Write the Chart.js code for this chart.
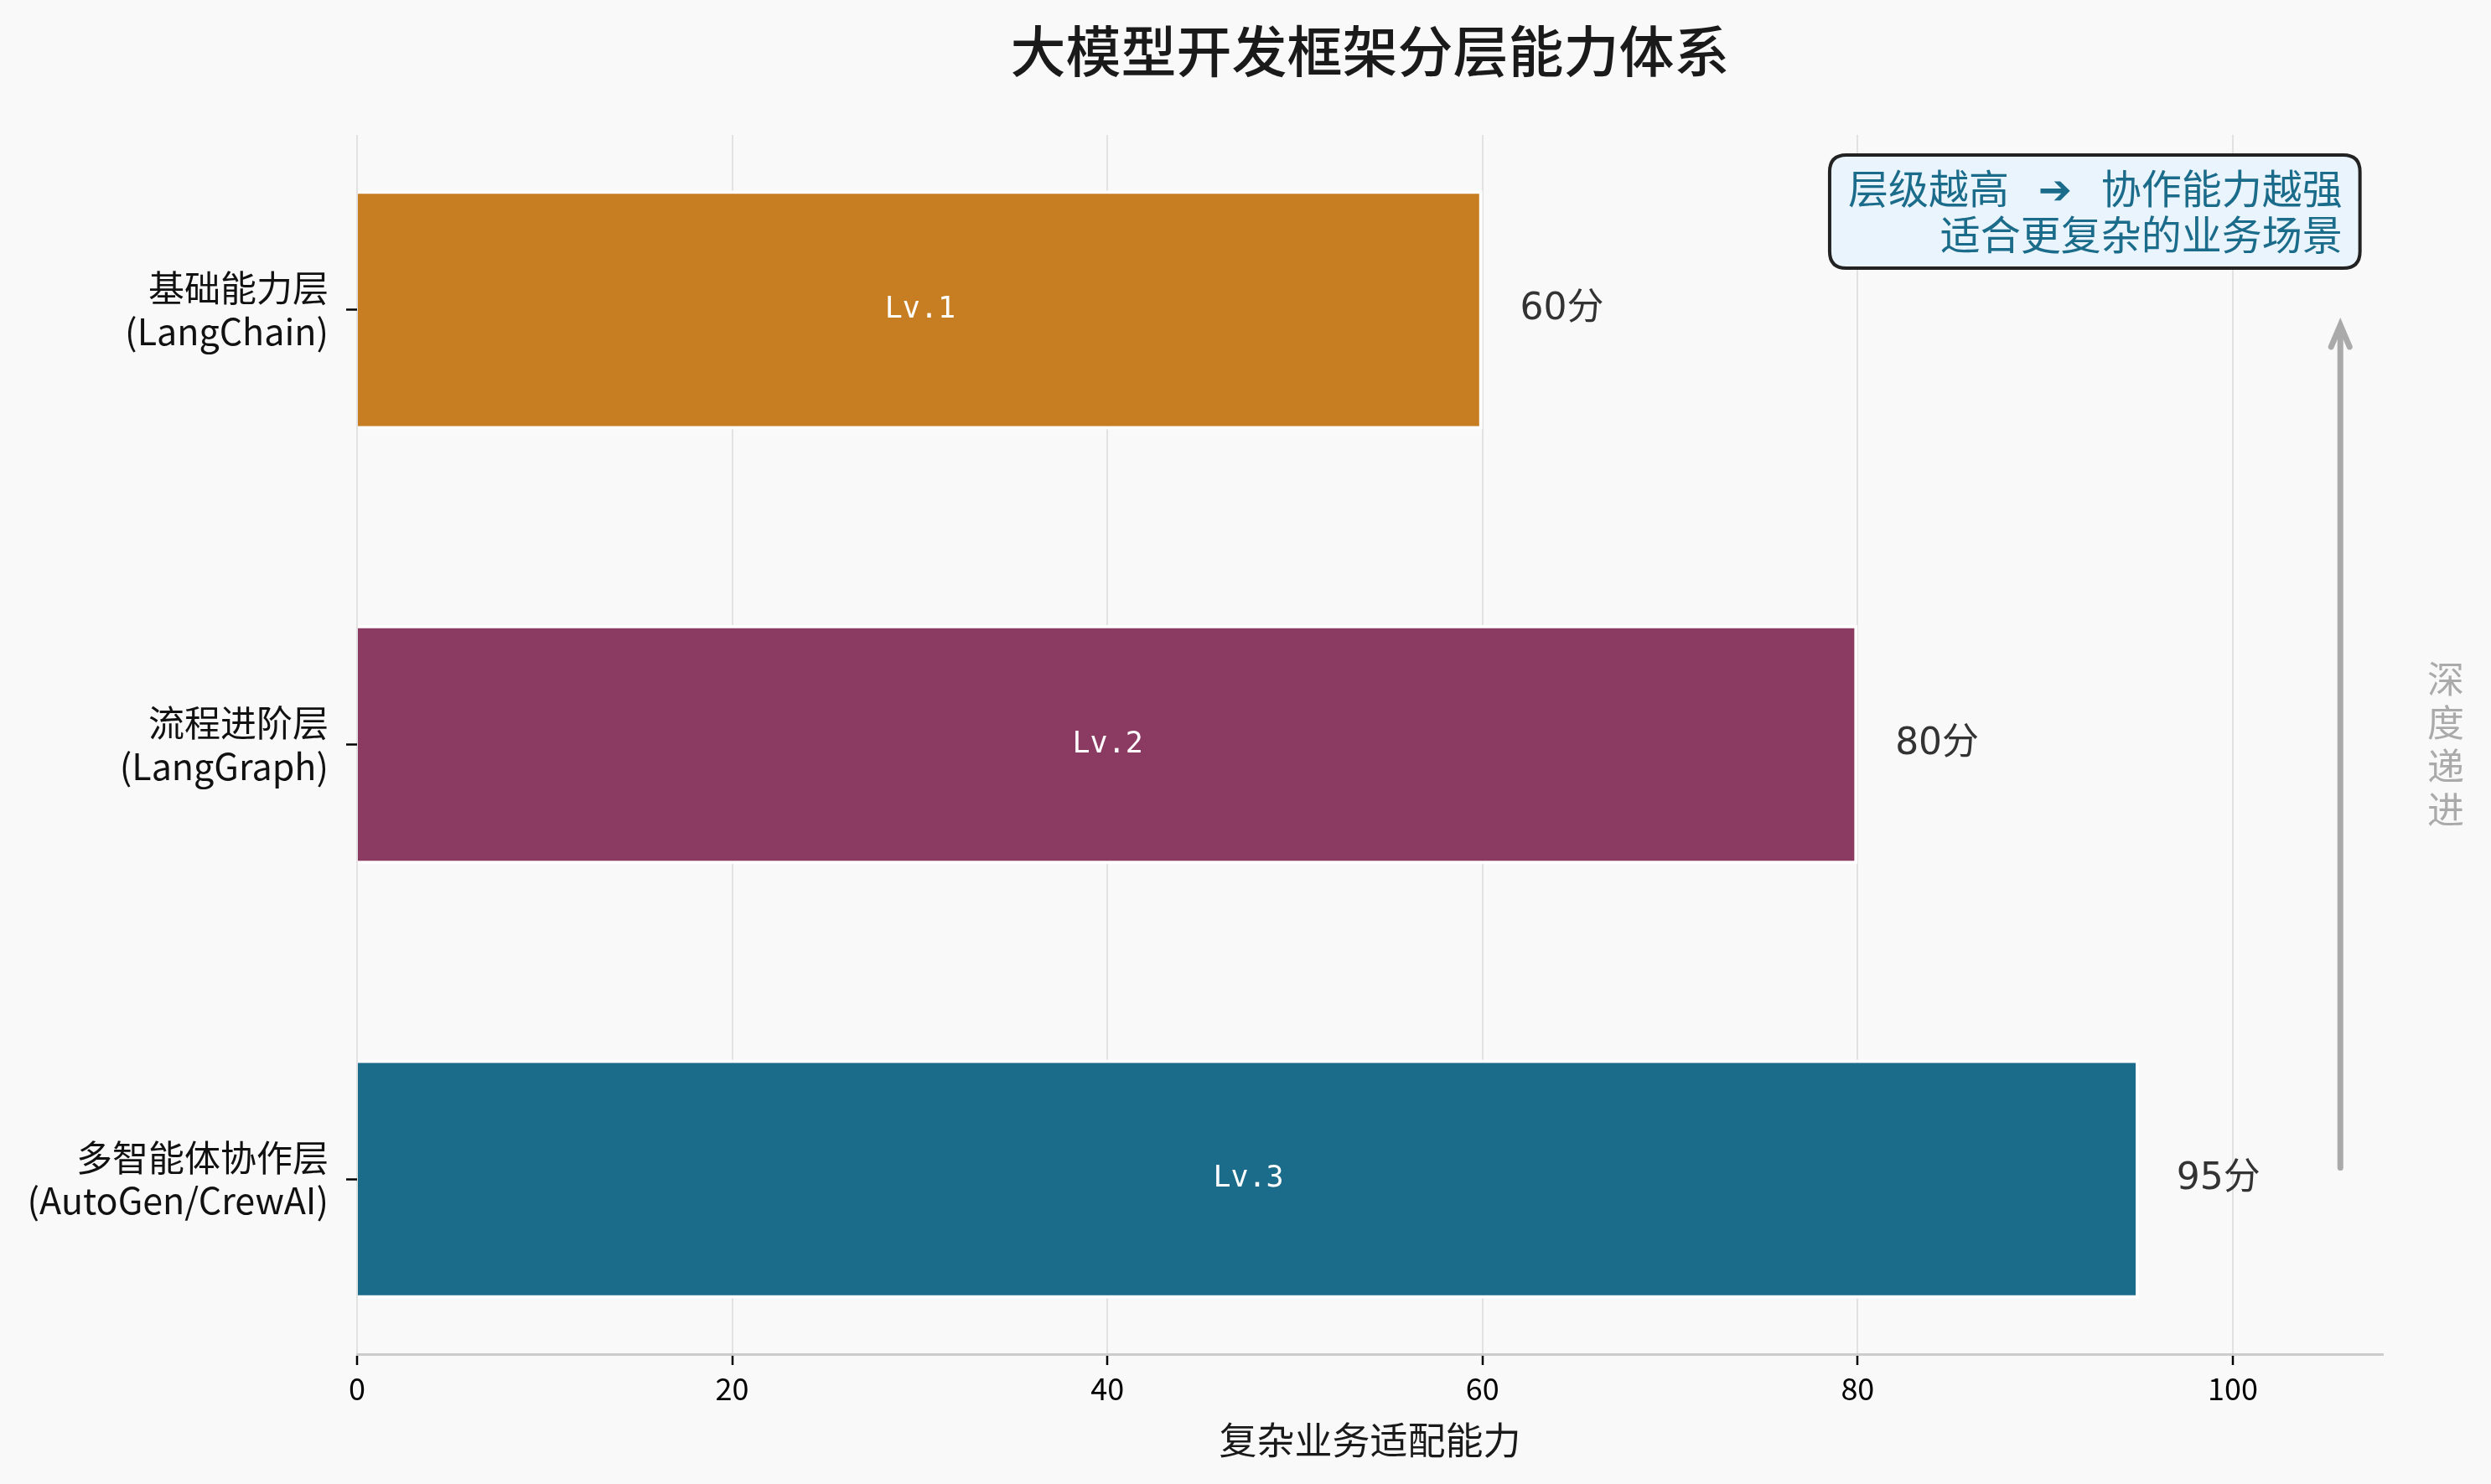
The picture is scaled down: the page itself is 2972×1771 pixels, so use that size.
<!DOCTYPE html>
<html>
<head>
<meta charset="utf-8">
<script src="https://cdn.jsdelivr.net/npm/chart.js@4.4.1/dist/chart.umd.min.js"></script>
<style>
  html, body { margin: 0; padding: 0; background: #f9f9f9; }
  canvas { display: block; }
</style>
</head>
<body>
<canvas id="layerChart" width="2972" height="1771"></canvas>
<script>
// data
const layerNames = ['基础能力层', '流程进阶层', '多智能体协作层'];
const frameworks = ['(LangChain)', '(LangGraph)', '(AutoGen/CrewAI)'];
const scores = [60, 80, 95];
const levelLabels = ['Lv.1', 'Lv.2', 'Lv.3'];
const barColors = ['#c77d22', '#8b3a62', '#1b6b8a'];
const xTicks = [0, 20, 40, 60, 80, 100];
const noteLines = ['层级越高\u2002 ➔ \u2002协作能力越强', '适合更复杂的业务场景'];
const sideText = ['深', '度', '递', '进'];

const CJK = '"Noto Sans CJK SC", "DejaVu Sans", sans-serif';

function roundRect(ctx, x, y, w, h, r) {
  ctx.beginPath();
  ctx.moveTo(x + r, y);
  ctx.lineTo(x + w - r, y);
  ctx.quadraticCurveTo(x + w, y, x + w, y + r);
  ctx.lineTo(x + w, y + h - r);
  ctx.quadraticCurveTo(x + w, y + h, x + w - r, y + h);
  ctx.lineTo(x + r, y + h);
  ctx.quadraticCurveTo(x, y + h, x, y + h - r);
  ctx.lineTo(x, y + r);
  ctx.quadraticCurveTo(x, y, x + r, y);
  ctx.closePath();
}

const overlay = {
  id: 'overlay',
  beforeDraw(chart) {
    const ctx = chart.ctx;
    ctx.save();
    ctx.fillStyle = '#f9f9f9';
    ctx.fillRect(0, 0, chart.width, chart.height);
    ctx.restore();
  },
  afterDatasetsDraw(chart) {
    const ctx = chart.ctx;
    const area = chart.chartArea;
    const xs = chart.scales.x;
    const meta = chart.getDatasetMeta(0);
    ctx.save();

    // labels on and next to bars
    meta.data.forEach((bar, i) => {
      const p = bar.getProps(['x', 'y', 'base'], true);
      ctx.textBaseline = 'middle';
      ctx.fillStyle = '#ffffff';
      ctx.font = '35px "DejaVu Sans Mono", ' + CJK;
      ctx.textAlign = 'center';
      ctx.fillText(levelLabels[i], (p.x + p.base) / 2, p.y);
      ctx.fillStyle = '#333333';
      ctx.font = '44px "DejaVu Sans", ' + CJK;
      ctx.textAlign = 'left';
      ctx.fillText(scores[i] + '分', xs.getPixelForValue(scores[i] + 2), p.y);
    });

    const w = area.right - area.left;
    const h = area.bottom - area.top;

    // title
    ctx.fillStyle = '#1a1a1a';
    ctx.font = '500 66px ' + CJK;
    ctx.textAlign = 'center';
    ctx.textBaseline = 'middle';
    ctx.fillText('大模型开发框架分层能力体系', (area.left + area.right) / 2, 61);

    // note box, top right
    const tx = area.left + w * 0.98;
    const ty = area.top + h * 0.044;
    const lh = 55;
    ctx.font = '48px ' + CJK;
    const tw = Math.max(...noteLines.map(s => ctx.measureText(s).width));
    ctx.fillStyle = '#eaf4fc';
    ctx.strokeStyle = '#222222';
    ctx.lineWidth = 4;
    roundRect(ctx, tx - tw - 22, ty - 40, tw + 43, lh + 80, 20);
    ctx.fill();
    ctx.stroke();
    ctx.fillStyle = '#1b6b8a';
    ctx.textAlign = 'right';
    noteLines.forEach((s, i) => ctx.fillText(s, tx, ty + i * lh));

    // depth arrow
    const ax = area.left + w * 0.979;
    const yTop = area.top + h * 0.156;
    const yBot = area.top + h * 0.847;
    ctx.strokeStyle = '#aaaaaa';
    ctx.lineWidth = 7;
    ctx.lineCap = 'round';
    ctx.beginPath();
    ctx.moveTo(ax, yBot);
    ctx.lineTo(ax, yTop + 4);
    ctx.stroke();
    ctx.beginPath();
    ctx.moveTo(ax - 11, yTop + 26);
    ctx.lineTo(ax, yTop);
    ctx.lineTo(ax + 11, yTop + 26);
    ctx.stroke();

    ctx.fillStyle = '#aaaaaa';
    ctx.font = '44px ' + CJK;
    ctx.textAlign = 'center';
    const sx = area.left + w * 1.031;
    const sy = area.top + h * 0.5;
    sideText.forEach((c, i) => ctx.fillText(c, sx, sy + (i - 1.5) * 52));

    ctx.restore();
  }
};

new Chart(document.getElementById('layerChart'), {
  type: 'bar',
  data: {
    datasets: [{
      data: scores.map((v, i) => ({ x: v, y: i })),
      backgroundColor: barColors,
      borderColor: '#ffffff',
      borderWidth: 4,
      borderSkipped: 'start',
      barPercentage: 0.55,
      categoryPercentage: 1.0
    }]
  },
  options: {
    indexAxis: 'y',
    responsive: false,
    devicePixelRatio: 1,
    animation: false,
    layout: { padding: { top: 161, right: 129, left: 0, bottom: 0 } },
    plugins: {
      legend: { display: false },
      tooltip: { enabled: false }
    },
    scales: {
      x: {
        type: 'linear',
        position: 'bottom',
        min: 0,
        max: 108,
        afterBuildTicks: s => { s.ticks = xTicks.map(v => ({ value: v })); },
        afterFit: s => { s.height = 155; },
        grid: {
          color: '#e2e2e2',
          lineWidth: 2,
          tickColor: '#000000',
          tickLength: 13,
          tickWidth: 2.5
        },
        border: { color: '#cccccc', width: 3 },
        ticks: {
          color: '#000000',
          padding: 7,
          font: { family: CJK, size: 36 }
        },
        title: {
          display: true,
          text: '复杂业务适配能力',
          color: '#1a1a1a',
          padding: { top: 0, bottom: 25 },
          font: { family: CJK, size: 45 }
        }
      },
      y: {
        type: 'linear',
        min: -0.4025,
        max: 2.4025,
        reverse: true,
        offset: false,
        afterBuildTicks: s => { s.ticks = layerNames.map((_, i) => ({ value: i })); },
        afterFit: s => { s.width = 426; },
        grid: {
          offset: false,
          drawOnChartArea: false,
          tickColor: '#000000',
          tickLength: 13,
          tickWidth: 2.5
        },
        border: { display: false },
        ticks: {
          color: '#111111',
          padding: 21,
          font: { family: CJK, size: 43, lineHeight: 1.2 },
          callback: v => [layerNames[v], frameworks[v]]
        }
      }
    }
  },
  plugins: [overlay]
});
</script>
</body>
</html>
